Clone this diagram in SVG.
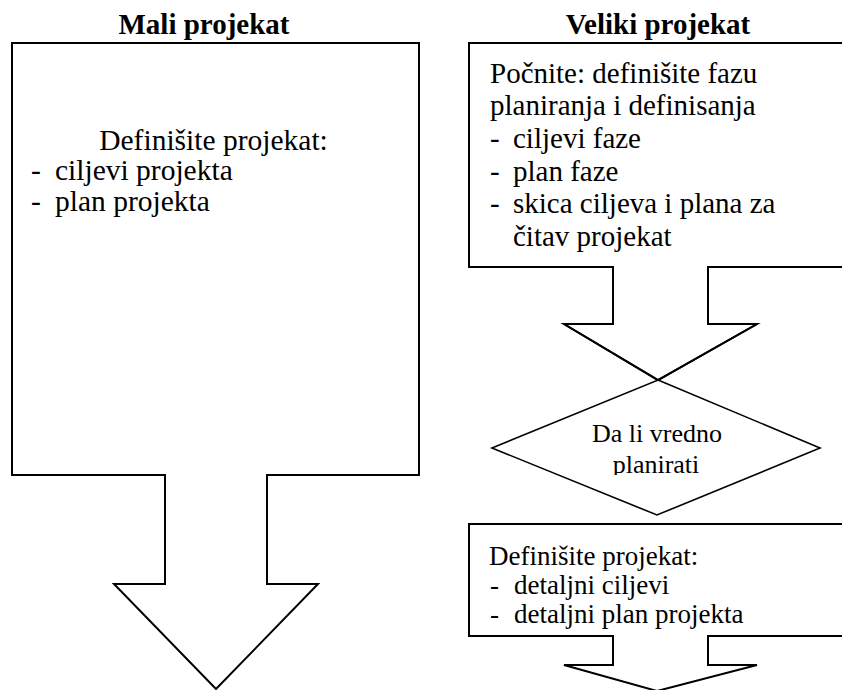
<svg xmlns="http://www.w3.org/2000/svg" width="842" height="690" viewBox="0 0 842 690">
<style>
.shape{fill:#fff;stroke:#000;stroke-width:2;stroke-linejoin:miter}
.dia{fill:#fff;stroke:#000;stroke-width:1.6}
.t{font-family:"Liberation Serif","Times New Roman",serif;fill:#000}
.title{font-weight:bold;font-size:29px;text-anchor:middle}
.l{font-size:29.5px}
.r{font-size:29px}
.b{font-size:27px}
.d{font-size:26px;text-anchor:middle}
</style>
<defs>
<clipPath id="dclip"><rect x="480" y="380" width="360" height="95"/></clipPath>
</defs>
<rect width="842" height="690" fill="#fff"/>
<g id="titles">
<text class="t title" x="204" y="34">Mali projekat</text>
<text class="t title" x="658" y="34">Veliki projekat</text>
</g>
<g id="connectors"></g>
<g id="mali">
<path class="shape" d="M12,43 H419 V475 H267 V584 H318 L216,689 L114,584 H165 V475 H12 Z"/>
<text class="t l" x="213.5" y="150" text-anchor="middle">Definišite projekat:</text>
<text class="t l" x="31" y="180">-</text>
<text class="t l" x="55" y="180">ciljevi projekta</text>
<text class="t l" x="31" y="211">-</text>
<text class="t l" x="55" y="211">plan projekta</text>
</g>
<g id="veliki-start">
<path class="shape" d="M469,43 H846 V267 H708 V324 H757 L658,380 L564,324 H613 V267 H469 Z"/>
<text class="t r" x="490" y="83">Počnite: definišite fazu</text>
<text class="t r" x="490" y="115">planiranja i definisanja</text>
<text class="t r" x="490" y="148">-</text>
<text class="t r" x="513" y="148">ciljevi faze</text>
<text class="t r" x="490" y="181">-</text>
<text class="t r" x="513" y="181">plan faze</text>
<text class="t r" x="490" y="213">-</text>
<text class="t r" x="513" y="213">skica ciljeva i plana za</text>
<text class="t r" x="513" y="246">čitav projekat</text>
</g>
<g id="odluka">
<path class="dia" d="M658,380 L820,448 L657,515 L492,448 Z"/>
<path fill="none" stroke="#000" stroke-width="2" d="M564,324 L658,380 L757,324"/>
<g clip-path="url(#dclip)">
<text class="t d" x="657" y="442">Da li vredno</text>
<text class="t d" x="656" y="473">planirati</text>
</g>
</g>
<g id="veliki-definisanje">
<path class="shape" d="M469,524 H846 V636 H708 V665 H757 L657,691 L564,665 H613 V636 H469 Z"/>
<text class="t b" x="489" y="565">Definišite projekat:</text>
<text class="t b" x="490" y="594">-</text>
<text class="t b" x="514" y="594">detaljni ciljevi</text>
<text class="t b" x="490" y="623">-</text>
<text class="t b" x="514" y="623">detaljni plan projekta</text>
</g>
</svg>
